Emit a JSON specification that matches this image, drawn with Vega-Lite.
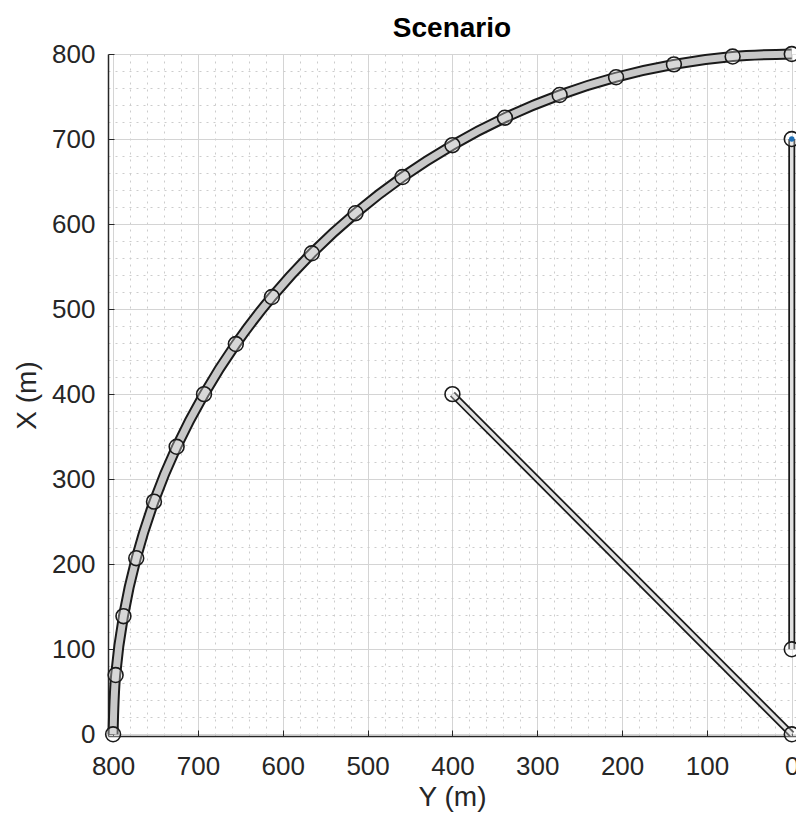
{
  "$schema": "https://vega.github.io/schema/vega-lite/v6.json",
  "autosize": "none",
  "width": 688,
  "height": 682,
  "padding": {"left": 108, "top": 54, "right": 0, "bottom": 85},
  "background": "white",
  "title": {"text": "Scenario", "fontSize": 28, "fontWeight": "bold", "font": "Liberation Sans", "color": "#000000", "offset": -11, "anchor": "middle"},
  "config": {
    "view": {"stroke": null},
    "axis": {
      "labelFont": "Liberation Sans",
      "titleFont": "Liberation Sans",
      "labelFontSize": 26,
      "titleFontSize": 28,
      "titleFontWeight": "normal",
      "labelColor": "#262626",
      "titleColor": "#262626",
      "domainColor": "#262626",
      "domainWidth": 1.5,
      "tickColor": "#262626",
      "labelOverlap": false
    }
  },
  "datasets": {
    "roads": [
      {"road": "arc", "order": 0, "Ym": 800, "Xm": 0},
      {"road": "arc", "order": 1, "Ym": 797, "Xm": 69.7},
      {"road": "arc", "order": 2, "Ym": 787.8, "Xm": 138.9},
      {"road": "arc", "order": 3, "Ym": 772.7, "Xm": 207.1},
      {"road": "arc", "order": 4, "Ym": 751.8, "Xm": 273.6},
      {"road": "arc", "order": 5, "Ym": 725.1, "Xm": 338.1},
      {"road": "arc", "order": 6, "Ym": 692.8, "Xm": 400},
      {"road": "arc", "order": 7, "Ym": 655.3, "Xm": 458.9},
      {"road": "arc", "order": 8, "Ym": 612.8, "Xm": 514.2},
      {"road": "arc", "order": 9, "Ym": 565.7, "Xm": 565.7},
      {"road": "arc", "order": 10, "Ym": 514.2, "Xm": 612.8},
      {"road": "arc", "order": 11, "Ym": 458.9, "Xm": 655.3},
      {"road": "arc", "order": 12, "Ym": 400, "Xm": 692.8},
      {"road": "arc", "order": 13, "Ym": 338.1, "Xm": 725.1},
      {"road": "arc", "order": 14, "Ym": 273.6, "Xm": 751.8},
      {"road": "arc", "order": 15, "Ym": 207.1, "Xm": 772.7},
      {"road": "arc", "order": 16, "Ym": 138.9, "Xm": 787.8},
      {"road": "arc", "order": 17, "Ym": 69.7, "Xm": 797},
      {"road": "arc", "order": 18, "Ym": 0, "Xm": 800},
      {"road": "diag", "order": 0, "Ym": 400, "Xm": 400},
      {"road": "diag", "order": 1, "Ym": 0, "Xm": 0},
      {"road": "vert", "order": 0, "Ym": 0, "Xm": 100},
      {"road": "vert", "order": 1, "Ym": 0, "Xm": 700}
    ],
    "vehicle": [
      {"Ym": 0, "Xm": 700}
    ]
  },
  "data": {"name": "roads"},
  "encoding": {
    "x": {
      "field": "Ym", "type": "quantitative",
      "scale": {"domain": [-5, 806], "reverse": true, "nice": false, "zero": false},
      "axis": {
        "title": "Y (m)",
        "values": [0,20,40,60,80,100,120,140,160,180,200,220,240,260,280,300,320,340,360,380,400,420,440,460,480,500,520,540,560,580,600,620,640,660,680,700,720,740,760,780,800],
        "labelExpr": "datum.value % 100 === 0 ? datum.label : ''",
        "grid": true,
        "gridColor": {"condition": {"test": "datum.value % 100 === 0", "value": "#d4d4d4"}, "value": "#cccccc"},
        "gridDash": {"condition": {"test": "datum.value % 100 === 0", "value": []}, "value": [2, 5]},
        "gridWidth": 1,
        "tickSize": -6,
        "tickOpacity": {"condition": {"test": "datum.value % 100 === 0", "value": 1}, "value": 0},
        "labelPadding": 23,
        "titlePadding": 4
      }
    },
    "y": {
      "field": "Xm", "type": "quantitative",
      "scale": {"domain": [-2, 800], "nice": false, "zero": false},
      "axis": {
        "title": "X (m)",
        "values": [0,20,40,60,80,100,120,140,160,180,200,220,240,260,280,300,320,340,360,380,400,420,440,460,480,500,520,540,560,580,600,620,640,660,680,700,720,740,760,780,800],
        "labelExpr": "datum.value % 100 === 0 ? datum.label : ''",
        "grid": true,
        "gridColor": {"condition": {"test": "datum.value % 100 === 0", "value": "#d4d4d4"}, "value": "#cccccc"},
        "gridDash": {"condition": {"test": "datum.value % 100 === 0", "value": []}, "value": [2, 5]},
        "gridWidth": 1,
        "tickSize": -6,
        "tickOpacity": {"condition": {"test": "datum.value % 100 === 0", "value": 1}, "value": 0},
        "labelPadding": 19,
        "titlePadding": 10
      }
    },
    "order": {"field": "order", "type": "quantitative"}
  },
  "layer": [
    {
      "transform": [{"filter": "datum.road === 'arc'"}],
      "mark": {"type": "line", "color": "#1a1a1a", "strokeWidth": 11, "interpolate": "catmull-rom", "strokeCap": "butt"}
    },
    {
      "transform": [{"filter": "datum.road === 'arc'"}],
      "mark": {"type": "line", "color": "#c8c8c8", "strokeWidth": 7, "interpolate": "catmull-rom", "strokeCap": "butt"}
    },
    {
      "transform": [{"filter": "datum.road !== 'arc'"}],
      "mark": {"type": "line", "color": "#1a1a1a", "strokeWidth": 7, "strokeCap": "butt"},
      "encoding": {"detail": {"field": "road"}}
    },
    {
      "transform": [{"filter": "datum.road !== 'arc'"}],
      "mark": {"type": "line", "color": "#e0e0e0", "strokeWidth": 3.5, "strokeCap": "butt"},
      "encoding": {"detail": {"field": "road"}}
    },
    {
      "mark": {"type": "point", "shape": "circle", "size": 220, "filled": false, "stroke": "#1a1a1a", "strokeWidth": 1.6, "fill": "#ffffff", "fillOpacity": 0.3, "opacity": 1}
    },
    {
      "data": {"name": "vehicle"},
      "mark": {"type": "point", "shape": "circle", "size": 30, "filled": true, "color": "#1f6fb5", "opacity": 1}
    }
  ]
}
